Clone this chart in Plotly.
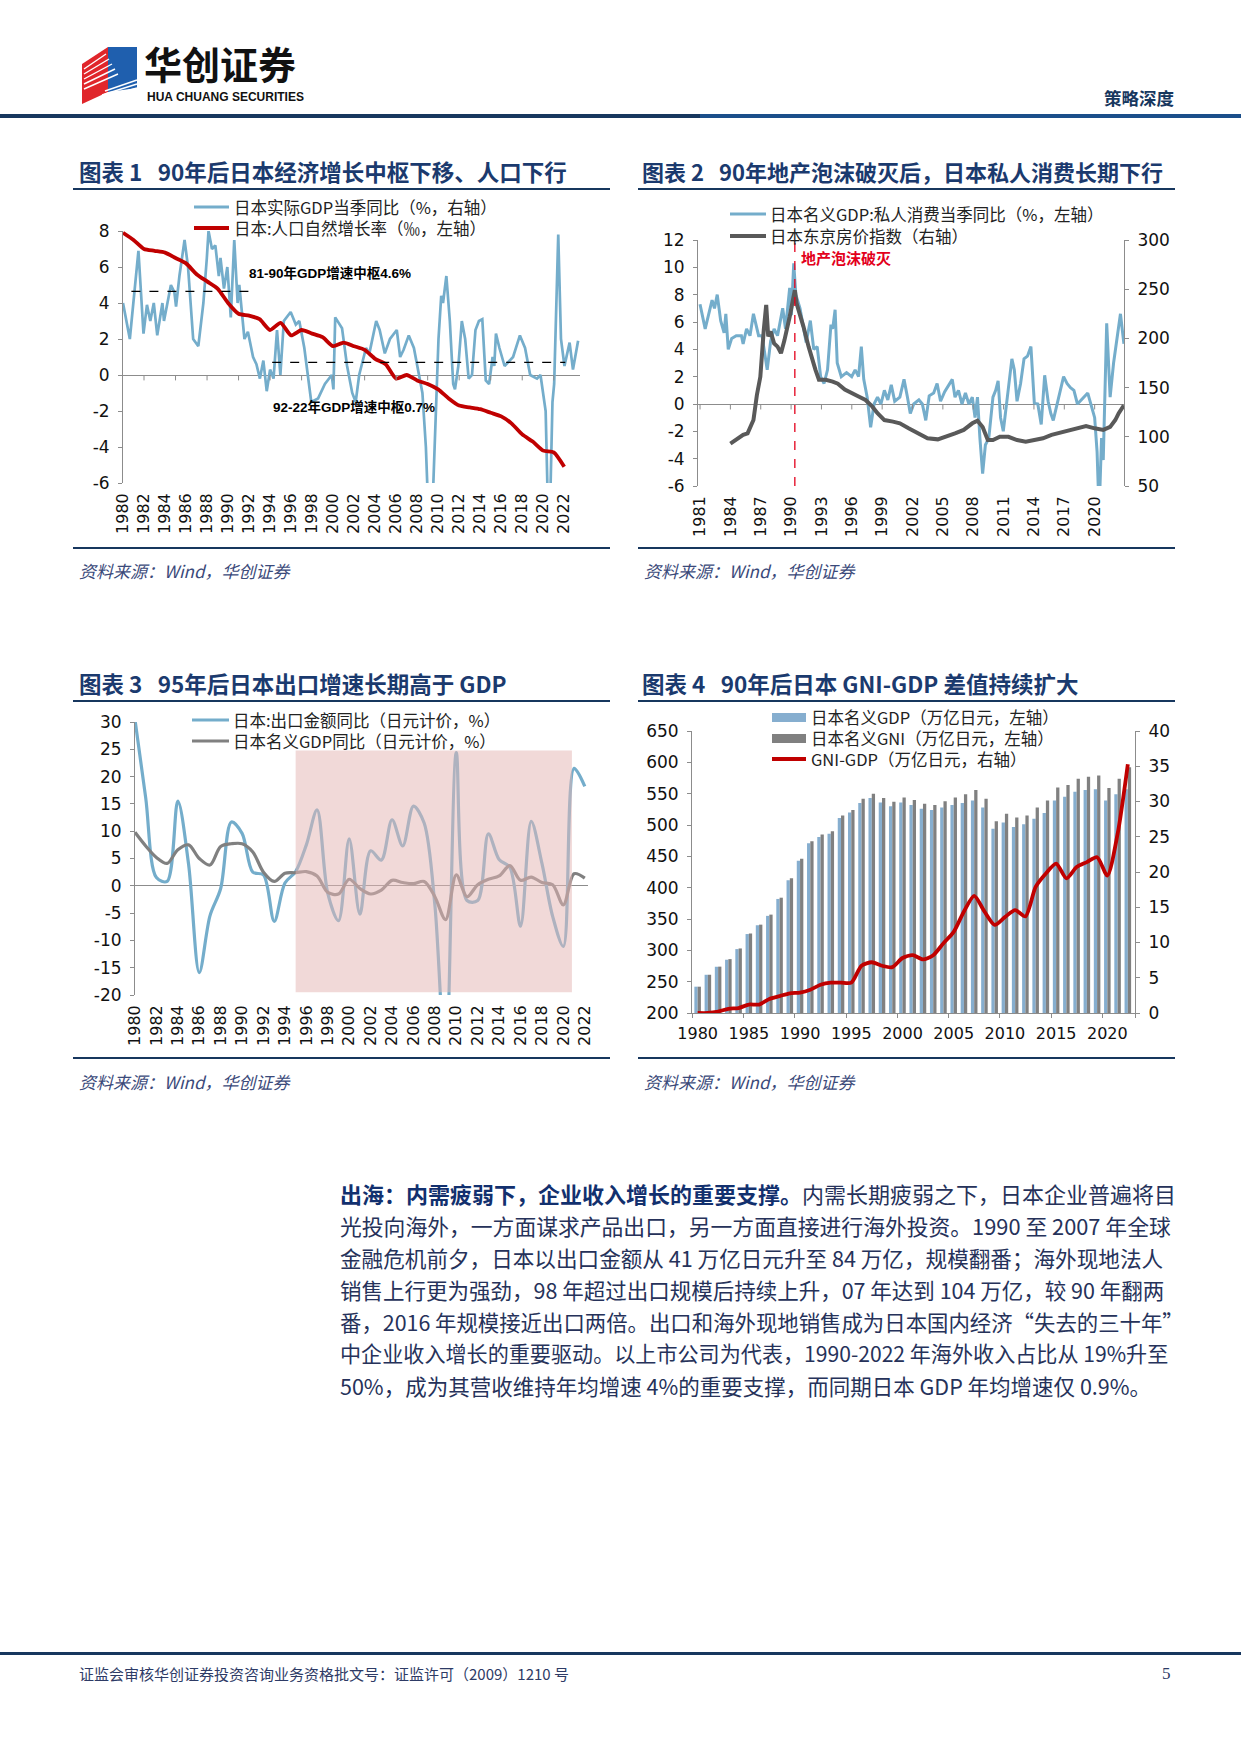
import plotly.graph_objects as go

# Figure fills the 1241x1754 window exactly (body margin removed by a post script);
# layout positions below are given in page pixels.
PAGE_W, PAGE_H, OFF = 1241, 1754, 0
FW, FH = PAGE_W - 2 * OFF, PAGE_H - 2 * OFF
def X(px): return (px - OFF) / FW
def Y(py): return 1 - (py - OFF) / FH

# ---------------- DATA ----------------
# Chart 1: Japan real GDP yoy (quarterly readings) and natural population growth rate
gdp_real_t = [1980.0,1980.65,1981.47,1981.95,1982.28,1982.6,1982.93,1983.26,1983.75,1983.9,1984.23,1984.56,1984.89,1985.05,1985.37,1985.86,1986.19,1986.35,1986.68,1987.17,1987.33,1987.65,1987.98,1988.14,1988.47,1988.79,1989.12,1989.28,1989.61,1989.93,1990.26,1990.59,1990.91,1991.07,1991.56,1991.89,1992.38,1992.7,1993.03,1993.36,1993.68,1994.0,1994.33,1994.66,1994.98,1995.31,1995.96,1996.45,1996.78,1997.26,1997.59,1997.92,1998.57,1999.22,1999.87,2000.03,2000.2,2000.85,2001.33,2001.82,2002.15,2002.48,2003.13,2003.45,2004.1,2004.43,2004.92,2005.41,2006.06,2006.38,2006.71,2007.2,2007.69,2008.01,2008.5,2008.83,2009.15,2009.48,2009.8,2010.03,2010.29,2010.46,2010.78,2011.11,2011.43,2011.6,2011.92,2012.25,2012.57,2012.9,2013.22,2013.55,2013.88,2014.2,2014.53,2014.85,2015.18,2015.34,2015.5,2015.83,2016.32,2017.13,2017.78,2018.27,2018.76,2019.41,2019.74,2020.23,2020.55,2020.88,2021.04,2021.43,2021.69,2022.02,2022.51,2022.83,2023.32]
gdp_real_v = [4.0,2.0,6.9,2.3,3.9,3.0,4.0,2.2,4.0,3.0,4.0,5.0,4.6,3.8,5.5,7.5,6.0,4.5,2.0,1.6,2.5,4.0,6.5,8.0,7.0,7.2,5.5,6.5,4.8,6.0,3.2,7.5,4.0,5.0,2.0,2.4,1.0,0.6,-0.2,0.8,-0.9,0.3,-0.2,2.5,0.0,3.0,3.5,2.8,3.0,1.5,0.0,-1.5,-1.3,-0.5,0.0,-0.8,3.2,2.6,0.5,-1.0,-1.5,0.0,1.5,1.2,3.0,2.5,1.2,2.0,2.5,1.0,1.4,2.2,1.5,0.5,-1.0,-4.0,-9.0,-7.0,-2.0,2.0,4.4,4.0,5.5,3.0,-0.5,-0.8,0.5,3.0,2.0,-0.2,0.0,2.5,3.0,3.1,-0.3,-0.5,1.0,0.5,2.3,1.5,0.5,1.0,2.2,1.5,0.0,-0.2,0.0,-2.0,-10.0,-1.5,-0.5,7.8,2.0,0.5,1.8,0.3,1.9]
pop_years = list(range(1980, 2023))
pop_rate = [7.9,7.5,7.0,6.9,6.8,6.5,6.2,5.6,5.2,4.8,4.0,3.4,3.3,3.1,2.5,2.9,2.2,2.5,2.3,2.1,1.6,1.8,1.6,1.4,0.9,0.6,-0.2,0.0,-0.3,-0.5,-0.8,-1.3,-1.7,-1.8,-1.9,-2.1,-2.3,-2.7,-3.3,-3.7,-4.2,-4.3,-5.1]
c1_ticks = list(range(1980, 2023, 2))
c1_median_8190 = 4.65
c1_median_9222 = 0.7

# Chart 2: private consumption yoy (left) and Tokyo house price index (right)
cons_t = [1981.0,1981.51,1982.19,1982.43,1982.7,1983.04,1983.38,1983.55,1983.79,1984.13,1984.58,1985.09,1985.26,1985.6,1985.94,1986.28,1986.79,1987.13,1987.64,1987.98,1988.32,1988.66,1989.17,1989.45,1989.86,1990.03,1990.26,1990.47,1990.88,1991.15,1991.49,1991.9,1992.24,1992.58,1992.92,1993.26,1993.6,1993.94,1994.11,1994.35,1994.56,1994.96,1995.48,1995.99,1996.33,1996.67,1996.94,1997.18,1997.52,1997.86,1998.2,1998.54,1998.88,1999.22,1999.56,1999.9,2000.24,2000.75,2001.16,2001.5,2001.78,2002.12,2002.63,2002.97,2003.31,2003.65,2004.09,2004.43,2004.77,2005.18,2005.93,2006.2,2006.54,2006.89,2007.23,2007.57,2007.91,2008.18,2008.42,2008.66,2008.93,2009.2,2009.54,2009.95,2010.22,2010.46,2010.7,2010.97,2011.31,2011.82,2012.06,2012.33,2012.68,2013.02,2013.36,2013.7,2014.04,2014.38,2014.72,2015.06,2015.4,2015.67,2015.91,2016.42,2016.93,2017.27,2017.61,2017.95,2018.3,2019.32,2019.66,2020.0,2020.24,2020.44,2020.68,2020.85,2021.19,2021.53,2021.87,2022.21,2022.55,2022.72,2022.89]
cons_v = [7.3,5.5,7.6,7.0,8.0,6.1,5.2,6.6,4.0,4.8,5.0,5.0,4.4,5.5,5.0,6.6,5.0,5.0,2.5,4.6,5.5,5.0,7.0,5.5,8.5,6.5,10.3,8.0,7.0,5.9,4.5,6.1,4.0,4.2,2.0,1.5,2.5,5.8,5.5,6.9,3.0,2.0,2.3,2.0,2.5,2.0,4.2,1.8,0.5,-1.7,0.0,0.5,0.0,1.0,0.3,1.4,0.2,0.5,1.8,0.5,-0.7,0.0,0.3,0.0,-1.2,0.6,0.8,1.5,0.2,0.9,1.8,0.5,1.0,0.0,0.8,0.0,0.5,-1.0,0.5,-2.5,-5.1,-3.0,-2.5,0.5,1.0,1.7,-1.0,-2.0,0.3,3.3,2.5,0.2,1.5,3.3,3.5,4.2,0.05,0.0,-1.5,2.1,0.2,-0.7,-1.2,0.5,2.0,1.5,1.2,1.0,0.0,0.8,-0.2,-1.0,-3.5,-8.0,-2.5,-4.1,5.9,0.5,3.0,5.0,6.6,5.5,4.4]
house_t = [1984.0,1984.41,1984.75,1985.26,1985.7,1985.94,1986.28,1986.62,1986.96,1987.3,1987.54,1987.74,1987.98,1988.32,1988.66,1989.0,1989.34,1989.86,1990.37,1990.54,1990.88,1991.22,1991.73,1992.07,1992.41,1992.75,1993.43,1994.11,1994.62,1995.31,1995.99,1996.67,1997.35,1998.03,1998.54,1999.22,2000.07,2000.75,2001.61,2002.46,2003.48,2004.5,2005.35,2006.2,2007.06,2007.91,2008.42,2008.93,2009.44,2009.95,2010.63,2011.48,2012.33,2013.19,2014.04,2014.89,2015.74,2016.59,2017.44,2018.3,2019.15,2020.0,2020.85,2021.53,2022.04,2022.38,2022.89]
house_v = [93,96,98.5,102,103.5,110,117,142.5,161,208.5,234,202,207,195,191.6,185,198,222,249,235.6,225,212,191.6,178,168,158,158,156,154,148,144,141,137.4,130.6,124,117,115.4,113.7,108.6,103.5,98.5,97.4,100,103.5,107,113.7,116.4,110,96.7,96.7,100,100,96.7,95,96.7,98.5,102,104,107,108.6,111,108.6,107,110,117,124,132]
c2_ticks = list(range(1981, 2021, 3))
bubble_burst = 1990.37

# Chart 3: exports yoy and nominal GDP yoy (annual, JPY)
c3_years = list(range(1980, 2023))
export_yoy = [30.4,16.1,1.5,0.8,15.5,4.0,-15.9,-5.5,-0.5,11.7,9.6,2.5,2.0,-6.5,0.5,2.6,7.5,13.9,-1.4,-6.4,8.6,-5.2,6.4,4.7,12.1,7.3,14.6,11.5,-3.5,-33.1,24.4,-2.7,-2.7,9.5,4.8,3.4,-7.4,11.8,4.1,-5.6,-11.1,21.5,18.2]
ngdp_yoy = [9.8,7.3,5.2,4.1,6.6,7.5,5.0,3.8,7.2,7.7,7.7,6.2,2.5,0.8,2.3,2.4,2.6,1.8,-1.2,-1.5,1.2,-0.5,-1.5,-0.8,1.0,0.6,0.4,0.8,-2.0,-6.2,2.0,-2.0,0.2,1.2,1.8,3.7,1.0,1.6,0.6,0.2,-3.5,2.2,1.4]
c3_ticks = list(range(1980, 2023, 2))
shade_start, shade_end = 1995, 2020.8
shade_low, shade_high = -19.5, 24.8

# Chart 4: nominal GDP, nominal GNI (trn yen) and GNI-GDP
c4_years = list(range(1980, 2023))
gdp_nom = [242,261,274,285,302,326,340,355,382,412,443,471,481,486,511,520,535,543,536,530,536,532,526,524,528,532,535,539,528,494,504,497,501,510,519,539,545,553,556,557,539,549,557]
gni_nom = [242,261,274,286,303,327,341,357,384,415,446,474,485,490,515,524,542,550,543,537,544,540,534,532,538,544,549,556,542,506,518,512,515,528,539,560,564,574,577,579,559,574,592]
gni_gdp = [0,0,0.2,0.6,0.7,1.2,1.2,2.0,2.4,2.8,2.9,3.3,4.0,4.3,4.3,4.3,6.7,7.2,6.7,6.5,7.8,8.2,7.6,8.2,9.9,11.5,14.4,16.6,14.4,12.5,13.6,14.6,13.7,17.9,19.8,21.2,19.1,20.7,21.4,22.1,19.5,25.4,35.3]
c4_ticks = list(range(1980, 2021, 5))

# ---------------- STYLE ----------------
BLUE = "#74ADCB"
RED = "#C00000"
DGRAY = "#595959"
GRAY = "#808080"
GDPBAR = "#86AECF"
NAVY = "#17375E"
AX = "#8C8C8C"
CJK = "Noto Sans CJK SC"
NUM = "DejaVu Sans"
TICKF = dict(family=NUM, size=17, color="#111111")
XTICKF = dict(family=NUM, size=16, color="#111111")
LEGSIZE = 16.5

fig = go.Figure()

# Chart 1 traces
fig.add_trace(go.Scatter(x=gdp_real_t, y=gdp_real_v, mode="lines", line=dict(color=BLUE, width=2.7),
                         xaxis="x", yaxis="y", showlegend=False))
fig.add_trace(go.Scatter(x=pop_years, y=pop_rate, mode="lines", line=dict(color=RED, width=3.8, shape="spline", smoothing=0.6),
                         xaxis="x", yaxis="y", showlegend=False))
# Chart 2 traces
fig.add_trace(go.Scatter(x=cons_t, y=cons_v, mode="lines", line=dict(color=BLUE, width=3),
                         xaxis="x2", yaxis="y2", showlegend=False))
fig.add_trace(go.Scatter(x=house_t, y=house_v, mode="lines", line=dict(color=DGRAY, width=4),
                         xaxis="x2", yaxis="y3", showlegend=False))
# Chart 3 traces
fig.add_trace(go.Scatter(x=c3_years, y=export_yoy, mode="lines", line=dict(color=BLUE, width=3.2, shape="spline", smoothing=0.9),
                         xaxis="x3", yaxis="y4", showlegend=False))
fig.add_trace(go.Scatter(x=c3_years, y=ngdp_yoy, mode="lines", line=dict(color=GRAY, width=3.2, shape="spline", smoothing=0.9),
                         xaxis="x3", yaxis="y4", showlegend=False))
# Chart 4 traces
fig.add_trace(go.Bar(x=c4_years, y=gdp_nom, marker=dict(color=GDPBAR, line=dict(width=0)),
                     xaxis="x4", yaxis="y5", showlegend=False))
fig.add_trace(go.Bar(x=c4_years, y=gni_nom, marker=dict(color=GRAY, line=dict(width=0)),
                     xaxis="x4", yaxis="y5", showlegend=False))
fig.add_trace(go.Scatter(x=c4_years, y=gni_gdp, mode="lines", line=dict(color=RED, width=3.8, shape="spline", smoothing=0.7),
                         xaxis="x4", yaxis="y6", showlegend=False))

def xax(dom, rng, anchor, ticks, angle=-90, font=XTICKF, **kw):
    d = dict(domain=[X(dom[0]), X(dom[1])], range=rng, anchor=anchor, tickmode="array",
             tickvals=ticks, ticktext=[str(t) for t in ticks], tickangle=angle, tickfont=font,
             showgrid=False, zeroline=False, showline=False, ticks="", ticklabelstandoff=6,
             automargin=False)
    d.update(kw)
    return d

def yax(rng, dtick, anchor, dom=None, zero=True, **kw):
    vals = list(range(rng[0], rng[1] + 1, dtick))
    d = dict(range=rng, tickmode="array", tickvals=vals, ticktext=[str(v) for v in vals],
             anchor=anchor, showgrid=False, zeroline=zero, automargin=False,
             zerolinecolor=AX, zerolinewidth=1, showline=True, linecolor=AX, linewidth=1,
             ticks="outside", ticklen=4, tickcolor=AX, tickfont=TICKF, ticklabelstandoff=5)
    if dom is not None:
        d["domain"] = [Y(dom[1]), Y(dom[0])]
    d.update(kw)
    return d

fig.update_layout(
    template="none",
    width=FW, height=FH, autosize=False,
    margin=dict(l=0, r=0, t=0, b=0, pad=0, autoexpand=False),
    paper_bgcolor="white", plot_bgcolor="rgba(0,0,0,0)", showlegend=False,
    barmode="group", bargap=0.36, bargroupgap=0.0,
    xaxis=xax((123, 580), [1980, 2023.5], "y", c1_ticks),
    yaxis=yax([-6, 8], 2, "x", dom=(231, 483)),
    xaxis2=xax((698, 1124), [1980.8, 2022.9], "y2", c2_ticks),
    yaxis2=yax([-6, 12], 2, "x2", dom=(240, 486)),
    yaxis3=yax([50, 300], 50, "x2", zero=False, overlaying="y2", side="right"),
    xaxis3=xax((135, 588), [1980, 2022.3], "y4", c3_ticks),
    yaxis4=yax([-20, 30], 5, "x3", dom=(722, 995)),
    xaxis4=xax((692, 1135), [1979.45, 2022.7], "y5", c4_ticks, angle=0,
               font=dict(family=NUM, size=16, color="#111111"), showline=True, linecolor=AX,
               minor=dict(tickmode="array", tickvals=[t - 0.5 for t in c4_ticks] + [2022.7], ticks="outside", ticklen=4, tickcolor=AX)),
    yaxis5=yax([200, 650], 50, "x4", dom=(731, 1013), zero=False),
    yaxis6=yax([0, 40], 5, "x4", zero=False, overlaying="y5", side="right"),
)

shapes = []
annos = []

def hline(x0, x1, y, color, width):
    shapes.append(dict(type="line", xref="paper", yref="paper", x0=X(x0), x1=X(x1), y0=Y(y), y1=Y(y),
                       line=dict(color=color, width=width)))

def rect(x0, y0, x1, y1, color):
    shapes.append(dict(type="rect", xref="paper", yref="paper", x0=X(x0), x1=X(x1), y0=Y(y1), y1=Y(y0),
                       fillcolor=color, line=dict(width=0)))

def text(px, py, s, size, color="#222222", family=CJK, anchor="left", bold=False, italic=False):
    if bold:
        s = "<b>" + s + "</b>"
    if italic:
        s = "<i>" + s + "</i>"
    annos.append(dict(x=X(px), y=Y(py), xref="paper", yref="paper", text=s, showarrow=False,
                      xanchor=anchor, yanchor="middle", borderpad=0,
                      font=dict(family=family, size=size, color=color)))

# ---- page header ----
rect(0, 114, PAGE_W, 118, NAVY)
rect(700, 114, PAGE_W, 118, "#1B4F8A")
shapes.append(dict(type="path", xref="paper", yref="paper",
                   path=f"M {X(82)},{Y(64)} L {X(108)},{Y(47)} L {X(108)},{Y(92)} L {X(82)},{Y(104)} Z",
                   fillcolor="#E0262B", line=dict(width=0)))
shapes.append(dict(type="path", xref="paper", yref="paper",
                   path=f"M {X(108)},{Y(47)} L {X(137)},{Y(47)} L {X(137)},{Y(88)} L {X(108)},{Y(92)} Z",
                   fillcolor="#1F5FAE", line=dict(width=0)))
for k in range(5):
    shapes.append(dict(type="line", xref="paper", yref="paper", x0=X(84), y0=Y(69 + 5 * k), x1=X(106 + 3 * k), y1=Y(54 + 5 * k),
                       line=dict(color="white", width=1.4)))
for k in range(4):
    shapes.append(dict(type="line", xref="paper", yref="paper", x0=X(96 + 3 * k), y0=Y(103 - 4 * k), x1=X(137), y1=Y(92 - 4 * k),
                       line=dict(color="white", width=1.4)))
text(143, 62, "华创证券", 38, "#111111", bold=True)
text(146, 97, "HUA CHUANG SECURITIES", 12, "#111111", family="Liberation Sans", bold=True)
text(1175, 97, "策略深度", 17.5, NAVY, anchor="right", bold=True)

# ---- chart frames: titles, rules, sources ----
TITLE_C = "#1B3A6E"
text(78, 171, "图表\u00a01\u00a0\u00a0\u00a090年后日本经济增长中枢下移、人口下行", 22.5, TITLE_C, bold=True)
text(641, 171, "图表\u00a02\u00a0\u00a0\u00a090年地产泡沫破灭后，日本私人消费长期下行", 22, TITLE_C, bold=True)
text(78, 683, "图表\u00a03\u00a0\u00a0\u00a095年后日本出口增速长期高于\u00a0GDP", 22.5, TITLE_C, bold=True)
text(641, 683, "图表\u00a04\u00a0\u00a0\u00a090年后日本\u00a0GNI-GDP\u00a0差值持续扩大", 22.5, TITLE_C, bold=True)
for (xa, xb) in [(73, 610), (638, 1175)]:
    hline(xa, xb, 189, NAVY, 2)
    hline(xa, xb, 548, NAVY, 2)
    hline(xa, xb, 701, NAVY, 2)
    hline(xa, xb, 1058, NAVY, 2)
SRC = "资料来源：Wind，华创证券"
for (sx, sy) in [(78, 570), (643, 570), (78, 1081), (643, 1081)]:
    text(sx, sy, SRC, 17, "#3B4A7A", italic=True)

# ---- chart 1 extras ----
shapes.append(dict(type="line", xref="x", yref="y", x0=1980.8, x1=1992.5, y0=c1_median_8190, y1=c1_median_8190,
                   line=dict(color="#000000", width=1.2, dash="dash")))
shapes.append(dict(type="line", xref="x", yref="y", x0=1994.2, x1=2022.1, y0=c1_median_9222, y1=c1_median_9222,
                   line=dict(color="#000000", width=1.2, dash="dash")))
for t in range(1982, 2024, 3):
    shapes.append(dict(type="line", xref="x", yref="y", x0=t, x1=t, y0=0, y1=-0.3, line=dict(color=AX, width=1)))
text(248, 273, "81-90年GDP增速中枢4.6%", 13.5, "#000000", family="Liberation Sans, " + CJK, bold=True)
text(272, 407, "92-22年GDP增速中枢0.7%", 13.5, "#000000", family="Liberation Sans, " + CJK, bold=True)
hline(194, 229, 207, BLUE, 3)
text(233, 207, "日本实际GDP当季同比（%，右轴）", LEGSIZE, "#222222")
hline(194, 229, 228, RED, 3.8)
text(233, 228, "日本:人口自然增长率（‰，左轴）", LEGSIZE, "#222222")

# ---- chart 2 extras ----
shapes.append(dict(type="line", xref="x2", yref="y2", x0=bubble_burst, x1=bubble_burst, y0=-6, y1=12,
                   line=dict(color="#E3001B", width=1.3, dash="dash")))
for t in c2_ticks:
    shapes.append(dict(type="line", xref="x2", yref="y2", x0=t, x1=t, y0=0, y1=-0.4, line=dict(color=AX, width=1)))
text(800, 258, "地产泡沫破灭", 15, "#E3001B", bold=True)
hline(730, 766, 214, BLUE, 3)
text(769, 214, "日本名义GDP:私人消费当季同比（%，左轴）", LEGSIZE, "#222222")
hline(730, 766, 236, DGRAY, 4)
text(769, 236, "日本东京房价指数（右轴）", LEGSIZE, "#222222")

# ---- chart 3 extras ----
shapes.append(dict(type="rect", xref="x3", yref="y4", x0=shade_start, x1=shade_end, y0=shade_low, y1=shade_high,
                   fillcolor="rgba(228,182,181,0.52)", line=dict(width=0), layer="above"))
hline(192, 229, 720, BLUE, 3.2)
text(232, 720, "日本:出口金额同比（日元计价，%）", LEGSIZE, "#222222")
hline(192, 229, 741, GRAY, 3.2)
text(232, 741, "日本名义GDP同比（日元计价，%）", LEGSIZE, "#222222")

# ---- chart 4 extras ----
rect(772, 713, 806, 722, GDPBAR)
text(810, 717, "日本名义GDP（万亿日元，左轴）", LEGSIZE, "#222222")
rect(772, 734, 806, 743, GRAY)
text(810, 738, "日本名义GNI（万亿日元，左轴）", LEGSIZE, "#222222")
hline(772, 806, 759, RED, 3.8)
text(810, 759, "GNI-GDP（万亿日元，右轴）", LEGSIZE, "#222222")

# ---- body text ----
BODY_C = "#26325A"
body_lines = [
    "<b><span style='color:#12306E'>出海：内需疲弱下，企业收入增长的重要支撑。</span></b>内需长期疲弱之下，日本企业普遍将目",
    "光投向海外，一方面谋求产品出口，另一方面直接进行海外投资。1990 至 2007 年全球",
    "金融危机前夕，日本以出口金额从 41 万亿日元升至 84 万亿，规模翻番；海外现地法人",
    "销售上行更为强劲，98 年超过出口规模后持续上升，07 年达到 104 万亿，较 90 年翻两",
    "番，2016 年规模接近出口两倍。出口和海外现地销售成为日本国内经济“失去的三十年”",
    "中企业收入增长的重要驱动。以上市公司为代表，1990-2022 年海外收入占比从 19%升至",
    "50%，成为其营收维持年均增速 4%的重要支撑，而同期日本 GDP 年均增速仅 0.9%。",
]
body_sizes = [22.0, 21.8, 21.6, 21.5, 21.4, 21.1, 21.5]
for i, s in enumerate(body_lines):
    text(339, 1193 + 32 * i, s, body_sizes[i], BODY_C)

# ---- footer ----
rect(0, 1652, PAGE_W, 1655, NAVY)
text(78, 1673, "证监会审核华创证券投资咨询业务资格批文号：证监许可（2009）1210 号", 15, "#2E3B66")
text(1172, 1673, "5", 17, "#2E3B66", family="Liberation Serif", anchor="right")

fig.update_layout(shapes=shapes, annotations=annos)

fig.write_html("out.html", config={"displayModeBar": False},
               post_script="document.body.style.margin='0px';document.body.style.overflow='hidden';")
